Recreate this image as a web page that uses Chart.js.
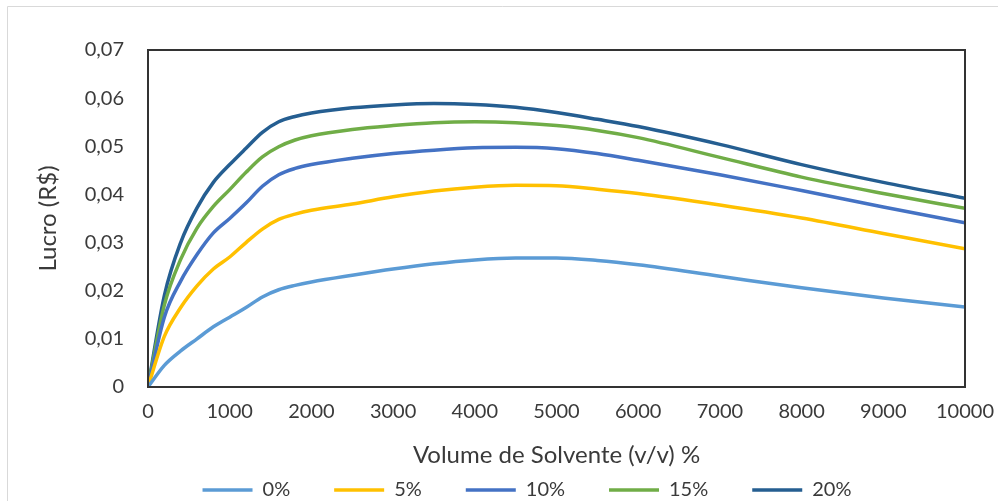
<!DOCTYPE html>
<html>
<head>
<meta charset="utf-8">
<script src="https://cdn.jsdelivr.net/npm/chart.js@4.4.1/dist/chart.umd.min.js"></script>
<style>
  html, body { margin: 0; padding: 0; background: #fff; }
  #wrap { width: 1007px; height: 501px; }
</style>
</head>
<body>
<div id="wrap"><canvas id="chart" width="1007" height="501"></canvas></div>
<script>
// valores
const volumes = [0, 200, 400, 600, 800, 1000, 1200, 1400, 1600, 1800, 2000, 2500, 3000, 3500, 4000, 4500, 5000, 5500, 6000, 7000, 8000, 9000, 10000];
const lucro0 = [0, 0.0045, 0.0075, 0.0100, 0.0125, 0.0145, 0.0165, 0.0187, 0.0202, 0.0211, 0.0218, 0.0232, 0.0245, 0.0256, 0.0264, 0.0268, 0.0268, 0.0263, 0.0254, 0.0230, 0.0206, 0.0185, 0.0166];
const lucro5 = [0, 0.0105, 0.0165, 0.0210, 0.0245, 0.0270, 0.0300, 0.0328, 0.0348, 0.0359, 0.0367, 0.0380, 0.0395, 0.0407, 0.0415, 0.0419, 0.0418, 0.0411, 0.0402, 0.0378, 0.0351, 0.0319, 0.0287];
const lucro10 = [0, 0.0145, 0.0220, 0.0275, 0.0320, 0.0350, 0.0382, 0.0417, 0.0441, 0.0454, 0.0462, 0.0475, 0.0485, 0.0492, 0.0497, 0.0498, 0.0495, 0.0485, 0.0471, 0.0441, 0.0408, 0.0374, 0.0341];
const lucro15 = [0, 0.0170, 0.0265, 0.0330, 0.0375, 0.0410, 0.0446, 0.0478, 0.0499, 0.0513, 0.0522, 0.0535, 0.0543, 0.0549, 0.0551, 0.0549, 0.0543, 0.0533, 0.0518, 0.0477, 0.0436, 0.0402, 0.0371];
const lucro20 = [0, 0.0190, 0.0300, 0.0372, 0.0425, 0.0462, 0.0496, 0.0529, 0.0551, 0.0562, 0.0569, 0.0580, 0.0586, 0.0589, 0.0587, 0.0581, 0.0570, 0.0556, 0.0541, 0.0504, 0.0462, 0.0425, 0.0392];

const legendas = ['0%', '5%', '10%', '15%', '20%'];
const cores = ['#5B9BD5', '#FFC000', '#4472C4', '#70AD47', '#255E91'];
const series = [lucro0, lucro5, lucro10, lucro15, lucro20];

const fonte = "Lato, 'Open Sans', sans-serif";
const corTexto = '#3a3a3a';

// moldura da área do gráfico + borda externa clara
const molduraPlugin = {
    id: 'moldura',
    beforeDraw(chart) {
        const ctx = chart.ctx;
        ctx.save();
        ctx.strokeStyle = '#d9d9d9';
        ctx.lineWidth = 1;
        ctx.beginPath();
        ctx.moveTo(7.5, 501);
        ctx.lineTo(7.5, 6.5);
        ctx.lineTo(998, 6.5);
        ctx.stroke();
        ctx.restore();
    },
    afterDatasetsDraw(chart) {
        const a = chart.chartArea;
        const ctx = chart.ctx;
        ctx.save();
        ctx.strokeStyle = '#333333';
        ctx.lineWidth = 2;
        ctx.strokeRect(a.left, a.top, a.right - a.left, a.bottom - a.top);
        ctx.restore();
    }
};

const ctx = document.getElementById('chart').getContext('2d');
new Chart(ctx, {
    type: 'line',
    data: {
        datasets: series.map((s, i) => ({
            label: legendas[i],
            data: s.map((v, j) => ({ x: volumes[j], y: v })),
            borderColor: cores[i],
            backgroundColor: cores[i],
            borderWidth: 3.5,
            pointRadius: 0,
            cubicInterpolationMode: 'monotone',
            fill: false
        }))
    },
    options: {
        responsive: false,
        animation: false,
        layout: { padding: { left: 80, right: 33, top: 50, bottom: -9 } },
        plugins: {
            tooltip: { enabled: false },
            legend: {
                position: 'bottom',
                labels: {
                    usePointStyle: true,
                    pointStyle: 'line',
                    pointStyleWidth: 50,
                    padding: 44,
                    color: corTexto,
                    font: { family: fonte, size: 20 }
                }
            }
        },
        scales: {
            x: {
                type: 'linear',
                min: 0,
                max: 10000,
                grid: { display: false, drawTicks: false },
                border: { display: false },
                ticks: {
                    stepSize: 1000,
                    padding: 13,
                    maxRotation: 0,
                    color: corTexto,
                    font: { family: fonte, size: 20 },
                    callback: v => String(v)
                },
                title: {
                    display: true,
                    text: 'Volume de Solvente (v/v) %',
                    color: corTexto,
                    font: { family: fonte, size: 24 },
                    padding: { top: 0, bottom: -34 }
                },
                afterFit: scale => { scale.height = 49; }
            },
            y: {
                min: 0,
                max: 0.07,
                grid: { display: false, drawTicks: false },
                border: { display: false },
                ticks: {
                    stepSize: 0.01,
                    padding: 24,
                    color: corTexto,
                    font: { family: fonte, size: 20 },
                    callback: v => v === 0 ? '0' : v.toFixed(2).replace('.', ',')
                },
                title: {
                    display: true,
                    text: 'Lucro (R$)',
                    color: corTexto,
                    font: { family: fonte, size: 24 },
                    padding: { top: -46, bottom: 0 }
                },
                afterFit: scale => { scale.width = 68; }
            }
        }
    },
    plugins: [molduraPlugin]
});
</script>
</body>
</html>
